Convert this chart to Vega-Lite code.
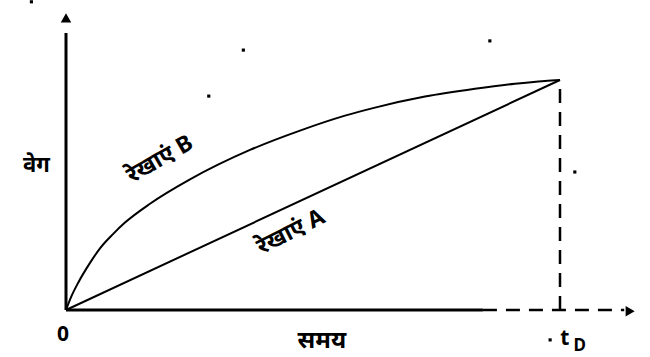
{
  "$schema": "https://vega.github.io/schema/vega-lite/v6.json",
  "width": 650,
  "height": 357,
  "autosize": {"type": "fit", "contains": "padding"},
  "padding": 0,
  "background": "white",
  "config": {"view": {"stroke": null}},
  "datasets": {
    "solid": [
      {"x": 0, "y": 0, "x2": 0, "y2": 1.204},
      {"x": 0, "y": 0, "x2": 0.844, "y2": 0}
    ],
    "dashed": [
      {"x": 0.844, "y": 0, "x2": 1.13, "y2": 0},
      {"x": 1, "y": 0, "x2": 1, "y2": 1}
    ],
    "arrows": [
      {"x": 0, "y": 1.27, "shape": "triangle-up"},
      {"x": 1.142, "y": -0.005, "shape": "triangle-right"}
    ],
    "curves": [
      {"series": "B", "t": 0, "v": 0},
      {"series": "B", "t": 0.01, "v": 0.055},
      {"series": "B", "t": 0.025, "v": 0.12},
      {"series": "B", "t": 0.0486, "v": 0.205},
      {"series": "B", "t": 0.0688, "v": 0.268},
      {"series": "B", "t": 0.0951, "v": 0.33},
      {"series": "B", "t": 0.1194, "v": 0.38},
      {"series": "B", "t": 0.17, "v": 0.462},
      {"series": "B", "t": 0.251, "v": 0.568},
      {"series": "B", "t": 0.3725, "v": 0.696},
      {"series": "B", "t": 0.4737, "v": 0.78},
      {"series": "B", "t": 0.5648, "v": 0.845},
      {"series": "B", "t": 0.6255, "v": 0.88},
      {"series": "B", "t": 0.7267, "v": 0.928},
      {"series": "B", "t": 0.8279, "v": 0.962},
      {"series": "B", "t": 0.9089, "v": 0.984},
      {"series": "B", "t": 0.9696, "v": 0.996},
      {"series": "B", "t": 1, "v": 1},
      {"series": "A", "t": 0, "v": 0},
      {"series": "A", "t": 1, "v": 1}
    ],
    "labels": [
      {"text": "रेखाएं B", "x": 0.19, "y": 0.655, "angle": -30, "size": 23},
      {"text": "रेखाएं A", "x": 0.455, "y": 0.339, "angle": -27, "size": 23},
      {"text": "वेग", "x": -0.06, "y": 0.63, "angle": 0, "size": 22},
      {"text": "0", "x": -0.006, "y": -0.109, "angle": 0, "size": 21},
      {"text": "समय", "x": 0.518, "y": -0.135, "angle": 0, "size": 24},
      {"text": "t", "x": 1.01, "y": -0.128, "angle": 0, "size": 21}
    ],
    "sub": [
      {"text": "D", "x": 1.04, "y": -0.158}
    ],
    "specks": [
      {"x": 0.359, "y": 1.13},
      {"x": 0.289, "y": 0.93},
      {"x": 0.858, "y": 1.17},
      {"x": 1.03, "y": 0.6},
      {"x": 0.98, "y": -0.13},
      {"x": -0.07, "y": 1.34}
    ]
  },
  "layer": [
    {
      "data": {"name": "solid"},
      "mark": {"type": "rule", "color": "black", "strokeWidth": 3},
      "encoding": {
        "x": {"field": "x", "type": "quantitative", "scale": {"domain": [-0.1336, 1.1822], "nice": false, "zero": false}, "axis": null},
        "x2": {"field": "x2"},
        "y": {"field": "y", "type": "quantitative", "scale": {"domain": [-0.2043, 1.3478], "nice": false, "zero": false}, "axis": null},
        "y2": {"field": "y2"}
      }
    },
    {
      "data": {"name": "dashed"},
      "mark": {"type": "rule", "color": "black", "strokeWidth": 2.5, "strokeDash": [14, 9]},
      "encoding": {
        "x": {"field": "x", "type": "quantitative"},
        "x2": {"field": "x2"},
        "y": {"field": "y", "type": "quantitative"},
        "y2": {"field": "y2"}
      }
    },
    {
      "data": {"name": "curves"},
      "mark": {"type": "line", "color": "black", "strokeWidth": 2, "interpolate": "monotone"},
      "encoding": {
        "x": {"field": "t", "type": "quantitative"},
        "y": {"field": "v", "type": "quantitative"},
        "detail": {"field": "series"},
        "order": {"field": "t"}
      }
    },
    {
      "data": {"name": "arrows"},
      "mark": {"type": "point", "filled": true, "color": "black", "opacity": 1, "size": 110},
      "encoding": {
        "x": {"field": "x", "type": "quantitative"},
        "y": {"field": "y", "type": "quantitative"},
        "shape": {"field": "shape", "type": "nominal", "scale": null}
      }
    },
    {
      "data": {"name": "specks"},
      "mark": {"type": "square", "color": "black", "opacity": 1, "size": 10},
      "encoding": {
        "x": {"field": "x", "type": "quantitative"},
        "y": {"field": "y", "type": "quantitative"}
      }
    },
    {
      "data": {"name": "labels"},
      "mark": {"type": "text", "color": "black", "font": "Noto Sans, DejaVu Sans, sans-serif", "fontWeight": "bold", "baseline": "middle", "align": "center"},
      "encoding": {
        "x": {"field": "x", "type": "quantitative"},
        "y": {"field": "y", "type": "quantitative"},
        "text": {"field": "text"},
        "angle": {"field": "angle", "type": "quantitative", "scale": null},
        "size": {"field": "size", "type": "quantitative", "scale": null}
      }
    },
    {
      "data": {"name": "sub"},
      "mark": {"type": "text", "color": "black", "font": "Noto Sans, DejaVu Sans, sans-serif", "fontWeight": "bold", "baseline": "middle", "align": "center", "fontSize": 17},
      "encoding": {
        "x": {"field": "x", "type": "quantitative"},
        "y": {"field": "y", "type": "quantitative"},
        "text": {"field": "text"}
      }
    }
  ]
}
